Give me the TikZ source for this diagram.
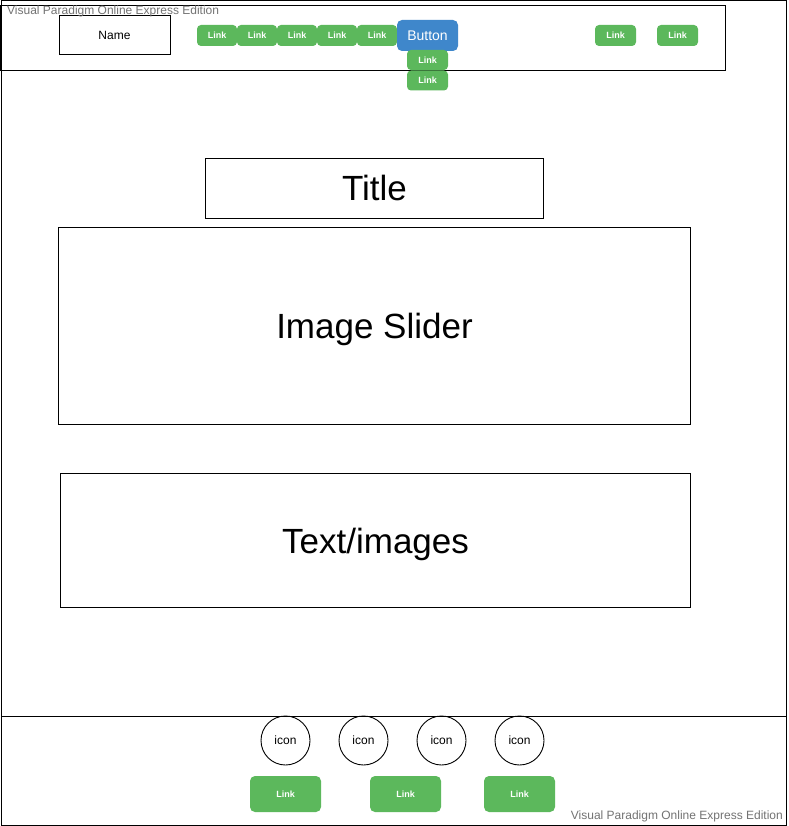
\documentclass[tikz,border=0pt]{standalone}
\usepackage{fontspec}
\setmainfont{Liberation Sans}
\begin{document}
\begin{tikzpicture}[x=1pt,y=-1pt,
  frame/.style={draw=black,line width=1pt},
  box/.style={draw=black,line width=1pt,fill=white,inner sep=0pt},
  greenlink/.style={fill=linkgreen,rounded corners=4pt,inner sep=0pt,text=white,font=\fontsize{9}{10}\selectfont\bfseries},
  bluebtn/.style={fill=btnblue,rounded corners=5pt,inner sep=0pt,text=white,font=\fontsize{14}{16}\selectfont},
  iconring/.style={draw=black,line width=0.9pt,circle,minimum size=49pt,inner sep=0pt,font=\fontsize{12}{14}\selectfont},
  mark text/.style={text=black!55,font=\fontsize{12}{14}\selectfont,inner sep=0pt},
  bigtext/.style={font=\fontsize{35}{40}\selectfont,text height=25pt,text depth=0pt}]
\definecolor{linkgreen}{HTML}{5CB85C}
\definecolor{btnblue}{HTML}{3F87CB}
\useasboundingbox (0,0) rectangle (788,826);
\fill[white] (0,0) rectangle (788,826);

% page outline and footer band
\draw[frame] (1,0.5) rectangle (786.5,825.5);
\draw[frame] (1,716.5) -- (786.5,716.5);

% header bar
\draw[frame] (0,5.5) rectangle (725.5,70.5);
\node[box,minimum width=111pt,minimum height=39pt,font=\fontsize{12}{14}\selectfont] (name) at (114.5,35.5) {Name};

% header links
\foreach \i/\cx in {1/217,2/257,3/297,4/337,5/377}{
  \node[greenlink,minimum width=40pt,minimum height=21pt] (hl\i) at (\cx,35.5) {Link};
}
\node[bluebtn,minimum width=61pt,minimum height=31pt] (button) at (427.5,35.5) {Button};
\node[greenlink,minimum width=41pt,minimum height=20pt] (sub1) at (427.5,60) {Link};
\node[greenlink,minimum width=41pt,minimum height=20pt] (sub2) at (427.5,80.5) {Link};
\node[greenlink,minimum width=41pt,minimum height=21pt] (hl6) at (615.5,35.5) {Link};
\node[greenlink,minimum width=41pt,minimum height=21pt] (hl7) at (677.5,35.5) {Link};

% watermark texts
\node[mark text,anchor=north west] (wm1) at (7,6) {Visual Paradigm Online Express Edition};
\node[mark text,anchor=south east] (wm2) at (783,822) {Visual Paradigm Online Express Edition};

% content blocks
\node[box,minimum width=338pt,minimum height=60pt,bigtext] (title) at (374.5,188.5) {Title};
\node[box,minimum width=632pt,minimum height=197pt,bigtext] (slider) at (374.5,326) {Image Slider};
\node[box,minimum width=630pt,minimum height=134pt,bigtext] (textimg) at (375.5,540.5) {Text/images};

% footer icons
\foreach \i/\cx in {1/285.5,2/363.5,3/441.5,4/519.5}{
  \node[iconring] (icon\i) at (\cx,740.5) {icon};
}

% footer links
\foreach \i/\cx in {1/285.5,2/405.5,3/519.5}{
  \node[greenlink,minimum width=71pt,minimum height=36pt,rounded corners=5pt] (fl\i) at (\cx,794) {Link};
}
\end{tikzpicture}
\end{document}
